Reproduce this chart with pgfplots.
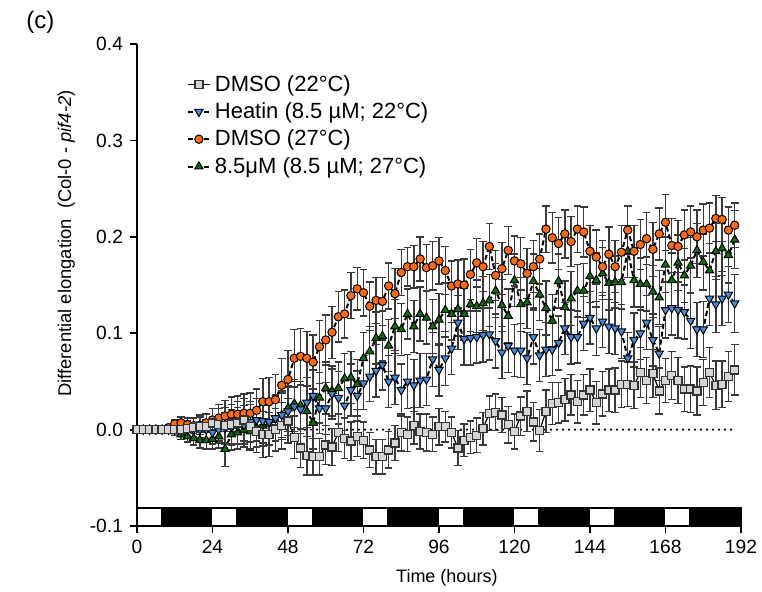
\documentclass[border=0pt]{standalone}
\usepackage{fontspec}
\setmainfont{Liberation Sans}
\usepackage{pgfplots}
\pgfplotsset{compat=1.18}
\usepackage{pgfplotstable}

\definecolor{cgray}{HTML}{D4D4D4}
\definecolor{cblue}{HTML}{3D8EE0}
\definecolor{corange}{HTML}{FF6A0D}
\definecolor{cgreen}{HTML}{0A6E0A}
\definecolor{ebar}{HTML}{3A3A3A}

% columns: time (h), mean, sem
\pgfplotstableread{
h y e
0 0 0
2 0 0
4 0 0
6 0 0
8 0 0
10 0 0
12 0 0.004
14 0 0.006
16 0.001 0.008
18 0.002 0.010
20 0.003 0.012
22 0.003 0.013
24 0.007 0.015
26 0.005 0.017
28 0.004 0.019
30 0.005 0.021
32 0.007 0.022
34 0.010 0.022
36 0.003 0.023
38 -0.002 0.022
40 -0.005 0.024
42 -0.005 0.023
44 0.000 0.022
46 0.004 0.024
48 0.009 0.023
50 -0.008 0.022
52 -0.019 0.020
54 -0.027 0.020
56 -0.028 0.019
58 -0.028 0.019
60 -0.016 0.020
62 -0.018 0.019
64 -0.003 0.020
66 -0.009 0.021
68 -0.012 0.020
70 -0.007 0.021
72 -0.011 0.019
74 -0.021 0.018
76 -0.028 0.018
78 -0.028 0.018
80 -0.021 0.019
82 -0.014 0.018
84 -0.003 0.019
86 -0.005 0.018
88 0.004 0.019
90 -0.002 0.018
92 -0.003 0.019
94 -0.005 0.018
96 0.003 0.019
98 0.003 0.016
100 -0.003 0.016
102 -0.019 0.018
104 -0.011 0.017
106 -0.008 0.017
108 -0.006 0.018
110 0.001 0.017
112 0.017 0.018
114 0.018 0.019
116 0.015 0.018
118 0.005 0.019
120 -0.002 0.018
122 0.014 0.020
124 0.019 0.021
126 0.008 0.020
128 -0.001 0.022
130 0.019 0.022
132 0.027 0.022
134 0.028 0.021
136 0.031 0.022
138 0.036 0.021
140 0.029 0.022
142 0.036 0.021
144 0.041 0.022
146 0.028 0.022
148 0.037 0.023
150 0.041 0.022
152 0.041 0.023
154 0.047 0.024
156 0.047 0.023
158 0.046 0.024
160 0.059 0.026
162 0.051 0.024
164 0.058 0.025
166 0.040 0.024
168 0.051 0.023
170 0.056 0.025
172 0.051 0.024
174 0.042 0.023
176 0.042 0.024
178 0.040 0.025
180 0.049 0.024
182 0.059 0.026
184 0.046 0.025
186 0.047 0.024
188 0.055 0.026
190 0.062 0.026
}\dmsotwotwo

\pgfplotstableread{
h y e
0 0 0
2 0 0
4 0 0
6 0 0
8 0 0
10 0 0
12 0 0.004
14 0 0.005
16 0 0.006
18 0 0.007
20 0 0.008
22 0 0.010
24 -0.003 0.012
26 0.000 0.014
28 0.002 0.016
30 0.003 0.018
32 0.004 0.019
34 0.005 0.020
36 0.008 0.021
38 0.010 0.022
40 0.009 0.023
42 0.008 0.024
44 0.012 0.024
46 0.015 0.025
48 0.019 0.025
50 0.024 0.026
52 0.021 0.025
54 0.028 0.026
56 0.035 0.027
58 0.022 0.026
60 0.022 0.027
62 0.037 0.026
64 0.033 0.027
66 0.025 0.026
68 0.041 0.027
70 0.035 0.026
72 0.048 0.027
74 0.055 0.026
76 0.061 0.027
78 0.067 0.026
80 0.050 0.027
82 0.054 0.028
84 0.041 0.027
86 0.050 0.028
88 0.046 0.027
90 0.051 0.028
92 0.052 0.027
94 0.073 0.028
96 0.062 0.027
98 0.074 0.028
100 0.084 0.027
102 0.111 0.028
104 0.094 0.027
106 0.095 0.028
108 0.096 0.027
110 0.098 0.028
112 0.099 0.027
114 0.092 0.028
116 0.080 0.027
118 0.087 0.028
120 0.082 0.027
122 0.082 0.028
124 0.074 0.027
126 0.096 0.028
128 0.077 0.027
130 0.083 0.028
132 0.083 0.027
134 0.090 0.028
136 0.105 0.027
138 0.096 0.028
140 0.096 0.027
142 0.110 0.028
144 0.116 0.027
146 0.105 0.028
148 0.112 0.027
150 0.107 0.028
152 0.105 0.027
154 0.102 0.028
156 0.074 0.027
158 0.093 0.028
160 0.100 0.027
162 0.111 0.028
164 0.093 0.027
166 0.079 0.028
168 0.124 0.029
170 0.126 0.028
172 0.124 0.029
174 0.122 0.028
176 0.113 0.029
178 0.104 0.028
180 0.104 0.029
182 0.136 0.028
184 0.130 0.029
186 0.136 0.028
188 0.140 0.029
190 0.131 0.030
}\heatintwotwo

\pgfplotstableread{
h y e
0 0 0
2 0 0
4 0 0
6 0 0
8 0 0
10 0.002 0.003
12 0.006 0.004
14 0.007 0.006
16 0.005 0.007
18 0.004 0.008
20 0.004 0.009
22 0.007 0.010
24 0.010 0.012
26 0.012 0.014
28 0.014 0.016
30 0.016 0.018
32 0.016 0.019
34 0.017 0.020
36 0.017 0.021
38 0.020 0.022
40 0.029 0.024
42 0.029 0.025
44 0.031 0.026
46 0.046 0.028
48 0.052 0.030
50 0.074 0.030
52 0.076 0.029
54 0.074 0.028
56 0.070 0.028
58 0.086 0.027
60 0.093 0.026
62 0.101 0.027
64 0.117 0.026
66 0.120 0.025
68 0.139 0.024
70 0.146 0.022
72 0.142 0.024
74 0.128 0.025
76 0.134 0.024
78 0.133 0.025
80 0.149 0.024
82 0.141 0.026
84 0.163 0.024
86 0.169 0.020
88 0.169 0.022
90 0.177 0.023
92 0.168 0.024
94 0.170 0.025
96 0.175 0.024
98 0.165 0.025
100 0.149 0.026
102 0.151 0.025
104 0.150 0.027
106 0.161 0.026
108 0.173 0.025
110 0.169 0.026
112 0.190 0.024
114 0.160 0.026
116 0.167 0.027
118 0.186 0.025
120 0.175 0.026
122 0.172 0.027
124 0.162 0.026
126 0.169 0.027
128 0.177 0.026
130 0.208 0.024
132 0.199 0.026
134 0.193 0.027
136 0.203 0.025
138 0.195 0.026
140 0.208 0.024
142 0.205 0.026
144 0.185 0.027
146 0.179 0.028
148 0.169 0.027
150 0.182 0.028
152 0.169 0.027
154 0.184 0.028
156 0.207 0.025
158 0.185 0.027
160 0.192 0.026
162 0.198 0.027
164 0.187 0.028
166 0.203 0.027
168 0.215 0.029
170 0.191 0.028
172 0.190 0.027
174 0.202 0.026
176 0.205 0.027
178 0.200 0.028
180 0.207 0.027
182 0.209 0.026
184 0.219 0.024
186 0.218 0.023
188 0.207 0.024
190 0.212 0.023
}\dmsotwoseven

\pgfplotstableread{
h y e
0 0 0
2 0 0
4 0 0
6 0 0
8 0 0
10 0 0
12 -0.002 0.004
14 -0.005 0.005
16 -0.007 0.006
18 -0.009 0.007
20 -0.011 0.008
22 -0.011 0.009
24 -0.010 0.010
26 -0.007 0.012
28 -0.020 0.018
30 -0.005 0.016
32 -0.003 0.017
34 0.000 0.018
36 -0.002 0.019
38 0.002 0.020
40 0.004 0.021
42 0.006 0.022
44 0.010 0.022
46 0.015 0.023
48 0.022 0.024
50 0.027 0.025
52 0.025 0.025
54 0.019 0.026
56 0.007 0.027
58 0.033 0.026
60 0.043 0.027
62 0.040 0.026
64 0.043 0.027
66 0.053 0.026
68 0.054 0.027
70 0.047 0.026
72 0.074 0.027
74 0.081 0.026
76 0.095 0.027
78 0.097 0.026
80 0.087 0.027
82 0.107 0.028
84 0.104 0.027
86 0.120 0.026
88 0.107 0.027
90 0.120 0.028
92 0.116 0.027
94 0.107 0.028
96 0.114 0.027
98 0.124 0.028
100 0.120 0.027
102 0.125 0.028
104 0.120 0.027
106 0.130 0.028
108 0.128 0.027
110 0.131 0.028
112 0.134 0.027
114 0.144 0.028
116 0.129 0.027
118 0.118 0.028
120 0.155 0.027
122 0.130 0.028
124 0.132 0.027
126 0.154 0.028
128 0.140 0.027
130 0.126 0.028
132 0.113 0.027
134 0.154 0.028
136 0.127 0.027
138 0.136 0.028
140 0.144 0.027
142 0.144 0.028
144 0.159 0.027
146 0.155 0.028
148 0.162 0.027
150 0.152 0.028
152 0.153 0.027
154 0.153 0.028
156 0.185 0.027
158 0.155 0.028
160 0.151 0.027
162 0.151 0.028
164 0.143 0.027
166 0.137 0.028
168 0.171 0.029
170 0.155 0.028
172 0.173 0.029
174 0.160 0.028
176 0.170 0.029
178 0.186 0.028
180 0.174 0.029
182 0.165 0.028
184 0.185 0.029
186 0.188 0.028
188 0.181 0.029
190 0.197 0.030
}\heatintwoseven

\begin{document}
\begin{tikzpicture}
\begin{axis}[
  scale only axis, width=302pt, height=241pt,
  xmin=0, xmax=192, ymin=-0.1, ymax=0.4,
  clip=false,
  axis x line*=bottom, axis y line*=left,
  axis line style={line width=0.9pt,-},
  xtick={0,24,48,72,96,120,144,168,192},
  xticklabels={0,24,48,72,96,120,144,168,192},
  ytick={-0.1,0,0.1,0.2,0.3,0.4},
  yticklabels={-0.1,0.0,0.1,0.2,0.3,0.4},
  tick align=outside, major tick length=3.5pt,
  tick style={black,line width=0.9pt},
  ticklabel style={font=\fontsize{9.6}{11}\selectfont},
  xlabel={Time (hours)},
  ylabel={Differential elongation\ \ (Col-0 - \textit{pif4-2})},
  every axis x label/.style={at={(rel axis cs:0.513,-0.108)},anchor=center,
    font=\fontsize{9}{10}\selectfont},
  every axis y label/.style={at={(rel axis cs:-0.091,0.586)},rotate=90,
    anchor=south,font=\fontsize{9.2}{10}\selectfont},
  legend style={draw=none,fill=none,at={(rel axis cs:0.072,0.953)},
    anchor=north west,font=\fontsize{11}{12}\selectfont,row sep=0.2pt,
    cells={anchor=west}},
  legend image code/.code={
    \draw[mark repeat=2,mark phase=2,#1] plot coordinates {(0pt,0pt)(5.5pt,0pt)(11pt,0pt)};},
  reverse legend,
  error bars/error bar style={ebar,line width=0.7pt,solid},
  error bars/error mark options={rotate=90,ebar,mark size=1.9pt,line width=0.7pt,solid},
]
\coordinate (O) at (rel axis cs:0,0);

% light/dark bar
\draw[line width=0.9pt,fill=white] (axis cs:0,-0.1) rectangle (axis cs:192,-0.081);
\fill[black] (axis cs:7.5,-0.1) rectangle (axis cs:24,-0.081);
\fill[black] (axis cs:31.5,-0.1) rectangle (axis cs:48,-0.081);
\fill[black] (axis cs:55.5,-0.1) rectangle (axis cs:72,-0.081);
\fill[black] (axis cs:79.5,-0.1) rectangle (axis cs:96,-0.081);
\fill[black] (axis cs:103.5,-0.1) rectangle (axis cs:120,-0.081);
\fill[black] (axis cs:127.5,-0.1) rectangle (axis cs:144,-0.081);
\fill[black] (axis cs:151.5,-0.1) rectangle (axis cs:168,-0.081);
\fill[black] (axis cs:175.5,-0.1) rectangle (axis cs:192,-0.081);
\draw[line width=0.9pt] (axis cs:0,-0.1) rectangle (axis cs:192,-0.081);

\addplot[forget plot,black,line width=1.3pt,line cap=round,dash pattern=on 0pt off 3pt]
  coordinates {(0,0) (190,0)};

\addplot[black,line width=1pt,dash pattern=on 2.5pt off 1.5pt,
  mark=triangle*,mark size=2.4pt,
  mark options={solid,fill=cgreen,draw=black,line width=0.5pt},
  error bars/.cd,y dir=both,y explicit]
  table[x=h,y=y,y error=e] {\heatintwoseven};
\addlegendentry{8.5μM (8.5 µM; 27°C)}

\addplot[black,line width=1pt,dash pattern=on 2.5pt off 1.5pt,
  mark=*,mark size=2.1pt,
  mark options={solid,fill=corange,draw=black,line width=0.5pt},
  error bars/.cd,y dir=both,y explicit]
  table[x=h,y=y,y error=e] {\dmsotwoseven};
\addlegendentry{DMSO (27°C)}

\addplot[black,line width=1pt,dash pattern=on 2.5pt off 1.5pt,
  mark=triangle*,mark size=2.4pt,
  mark options={solid,rotate=180,fill=cblue,draw=black,line width=0.5pt},
  error bars/.cd,y dir=both,y explicit]
  table[x=h,y=y,y error=e] {\heatintwotwo};
\addlegendentry{Heatin (8.5 µM; 22°C)}

\addplot[black,line width=0.6pt,
  mark=square*,mark size=2pt,
  mark options={solid,fill=cgray,draw=black!80,line width=0.7pt},
  error bars/.cd,y dir=both,y explicit]
  table[x=h,y=y,y error=e] {\dmsotwotwo};
\addlegendentry{DMSO (22°C)}

\node[font=\fontsize{12}{13}\selectfont] at (rel axis cs:-0.16,1.046) {(c)};
\end{axis}
\pgfresetboundingbox
\path[use as bounding box] (O) ++(-68.5pt,-32.5pt) rectangle ++(381pt,295.5pt);
\end{tikzpicture}
\end{document}
